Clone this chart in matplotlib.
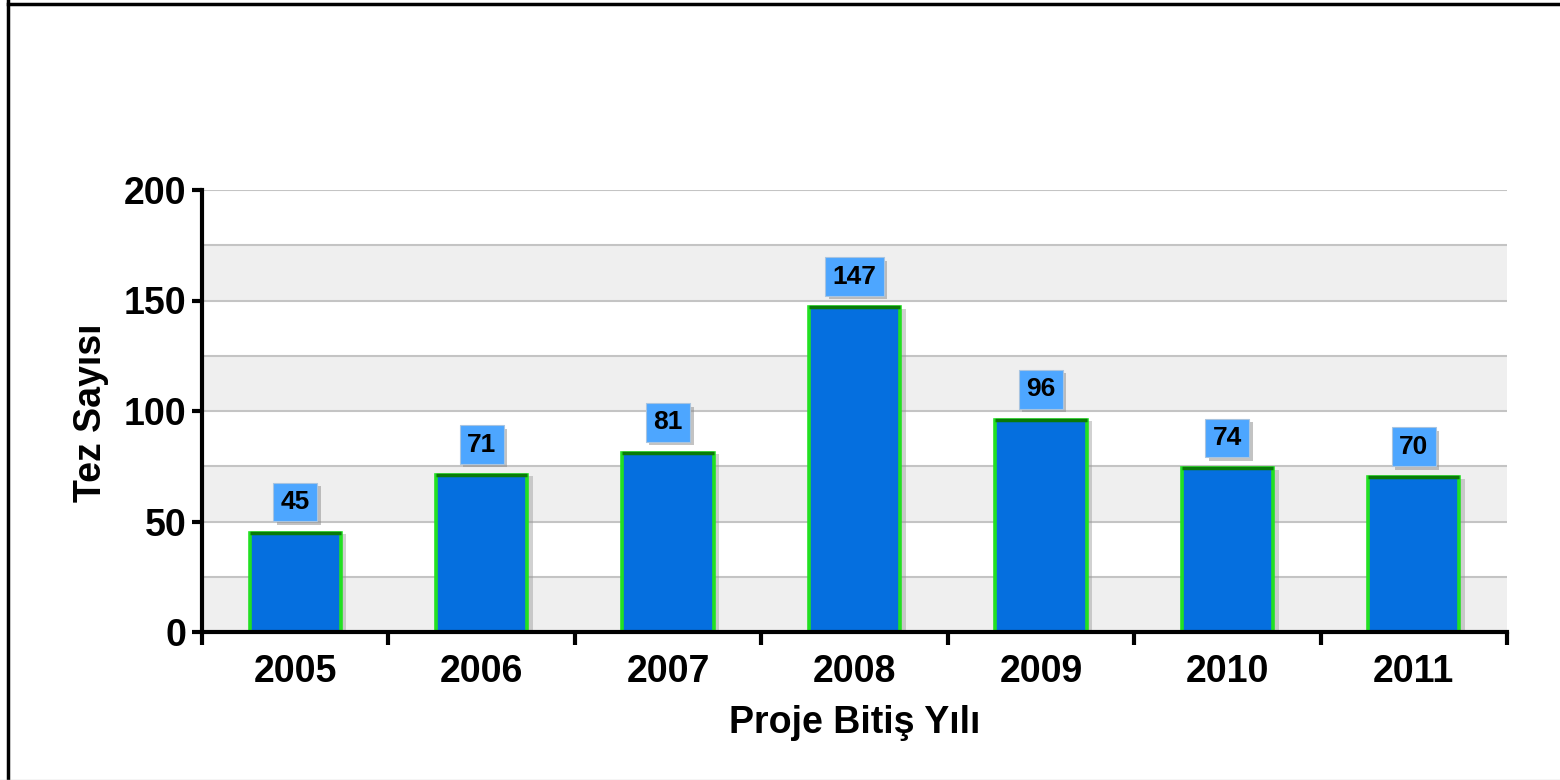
import matplotlib
matplotlib.use("Agg")
import matplotlib.pyplot as plt
import matplotlib.patheffects as pe
from matplotlib.lines import Line2D
import numpy as np

plt.rcParams['font.family'] = ['Liberation Sans', 'DejaVu Sans']
plt.rcParams['font.weight'] = 'bold'

years = ['2005', '2006', '2007', '2008', '2009', '2010', '2011']
counts = [45, 71, 81, 147, 96, 74, 70]
y_ticks = [0, 50, 100, 150, 200]
x_title = 'Proje Bitiş Yılı'
y_title = 'Tez Sayısı'

fig = plt.figure(figsize=(15.6, 7.8), dpi=100)
ax = fig.add_axes([202/1560, 1-632/780, (1507-202)/1560, (632-190)/780])

x = np.arange(len(years))
ax.set_xlim(-0.5, len(years)-0.5)
ax.set_ylim(0, 200)

# alternating bands + grid lines
for lo in range(0, 200, 50):
    ax.axhspan(lo, lo+25, color='#efefef', zorder=0, lw=0)
for g in range(25, 201, 25):
    ax.axhline(g, color='#c4c4c4', lw=1.5, zorder=0.5)

bw = 0.49
bars = ax.bar(x, counts, width=bw, color='#056fdf', edgecolor='#22e022',
              linewidth=2.6, zorder=2)
for b in bars:
    b.set_path_effects([pe.SimplePatchShadow(offset=(4, -1), shadow_rgbFace='#999999', alpha=0.45),
                        pe.Normal()])
ax.hlines(counts, x-bw/2, x+bw/2, colors='#0a7a0a', lw=2.5, zorder=3)

for xi, v in zip(x, counts):
    t = ax.annotate(str(v), (xi, v), xytext=(0, 22), textcoords='offset points',
                    ha='center', va='center', fontsize=19, fontweight='bold',
                    color='black', zorder=5,
                    bbox=dict(boxstyle='square,pad=0.28', fc='#4da6ff', ec='#a8c4e0', lw=0.8))
    t.get_bbox_patch().set_path_effects([pe.SimplePatchShadow(offset=(2.5, -2.5), shadow_rgbFace='#888888', alpha=0.5),
                                         pe.Normal()])

for s in ['top', 'right']:
    ax.spines[s].set_visible(False)
for s in ['left', 'bottom']:
    ax.spines[s].set_linewidth(3)
    ax.spines[s].set_zorder(6)

ax.set_yticks(y_ticks)
ax.set_yticklabels([str(t) for t in y_ticks], fontsize=27, fontweight='bold')
ax.tick_params(axis='y', length=7, width=3, pad=4)

ax.set_xticks(x)
ax.set_xticklabels(years, fontsize=27, fontweight='bold')
ax.tick_params(axis='x', which='major', length=0, pad=16)
ax.set_xticks(np.arange(-0.5, len(years), 1.0), minor=True)
ax.tick_params(axis='x', which='minor', length=9, width=3, direction='out')

ax.set_xlabel(x_title, fontsize=27, fontweight='bold')
ax.xaxis.set_label_coords(0.5, -0.165)
ax.xaxis.label.set_va('top')
ax.set_ylabel(y_title, fontsize=27, fontweight='bold')
ax.yaxis.set_label_coords(-0.0712, 0.495)
ax.yaxis.label.set_va('bottom')

# outer frame
fig.add_artist(Line2D([8/1560, 8/1560], [0, 1], transform=fig.transFigure, color='black', lw=2.5))
fig.add_artist(Line2D([8/1560, 1], [1-4/780, 1-4/780], transform=fig.transFigure, color='black', lw=2.5))
fig.add_artist(Line2D([0, 1], [0.5/780, 0.5/780], transform=fig.transFigure, color='#cccccc', lw=1))

fig.savefig('out.png', dpi=100)
